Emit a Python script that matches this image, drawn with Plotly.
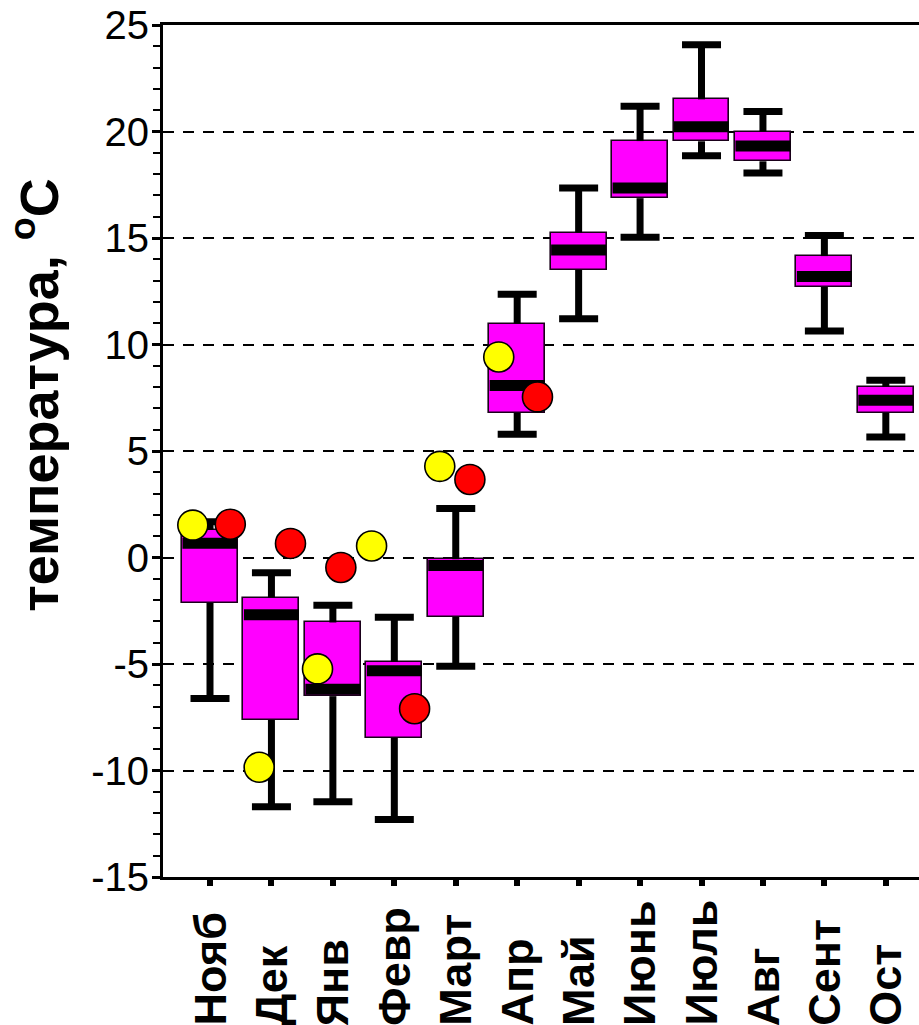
import plotly.graph_objects as go

# Monthly air temperature (°C): box statistics per month
months = ["Нояб", "Дек", "Янв", "Февр", "Март", "Апр",
          "Май", "Июнь", "Июль", "Авг", "Сент", "Ост"]
upper_whisker = [1.68, -0.72, -2.24, -2.80, 2.30, 12.36, 17.35, 21.18, 24.07, 20.94, 15.12, 8.32]
q3 = [1.29, -1.88, -3.05, -4.90, -0.08, 10.98, 15.25, 19.55, 21.51, 20.00, 14.15, 8.01]
median = [0.67, -2.69, -6.19, -5.32, -0.37, 8.07, 14.44, 17.35, 20.22, 19.32, 13.19, 7.38]
q1 = [-2.13, -7.63, -6.51, -8.46, -2.79, 6.79, 13.51, 16.87, 19.54, 18.60, 12.70, 6.79]
lower_whisker = [-6.62, -11.70, -11.47, -12.30, -5.10, 5.79, 11.21, 15.03, 18.86, 18.05, 10.63, 5.66]

# Individual-year values for the cold season (Nov - Apr)
yellow_values = [1.52, -9.85, -5.23, 0.54, 4.28, 9.41]
red_values = [1.56, 0.66, -0.47, -7.10, 3.66, 7.54]
# horizontal shift of each point from its month centre (category units)
yellow_shift = [-0.28, -0.20, -0.25, -0.37, -0.26, -0.30]
red_shift = [0.33, 0.31, 0.13, 0.33, 0.23, 0.33]

y_ticks = [25, 20, 15, 10, 5, 0, -5, -10, -15]

FONT = "Liberation Sans, Arial, sans-serif"
MAGENTA = "#FF00FF"

W, H = 919, 1025
M_L, M_R, M_T, M_B = 163, 0, 24.5, 148

# plotly's line-ew symbol draws a segment 1.4 x marker size long
LINE_EW = 1.4

idx = list(range(len(months)))

fig = go.Figure()

# boxes (Q1..Q3)
fig.add_trace(go.Bar(
    x=idx,
    y=[a - b for a, b in zip(q3, q1)],
    base=q1,
    width=0.91,
    marker=dict(color=MAGENTA, line=dict(color="#1a001a", width=1.6)),
    showlegend=False,
    hoverinfo="skip",
))

# whisker stems: Q3 -> upper, lower -> Q1
wx, wy = [], []
for i in idx:
    wx += [i, i, None, i, i, None]
    wy += [q3[i], upper_whisker[i], None, lower_whisker[i], q1[i], None]
fig.add_trace(go.Scatter(
    x=wx, y=wy, mode="lines",
    line=dict(color="black", width=7),
    showlegend=False, hoverinfo="skip",
))

# whisker caps (about 39 px long)
fig.add_trace(go.Scatter(
    x=idx + idx,
    y=upper_whisker + lower_whisker,
    mode="markers",
    marker=dict(symbol="line-ew", size=39 / LINE_EW, color="black",
                line=dict(color="black", width=7)),
    showlegend=False, hoverinfo="skip",
))

# medians (span the box interior)
fig.add_trace(go.Scatter(
    x=idx, y=median, mode="markers",
    marker=dict(symbol="line-ew", size=55 / LINE_EW, color="black",
                line=dict(color="black", width=11)),
    showlegend=False, hoverinfo="skip",
))

# individual points
fig.add_trace(go.Scatter(
    x=[i + s for i, s in zip(idx, yellow_shift)],
    y=yellow_values, mode="markers",
    marker=dict(size=30, color="#FFFF00", line=dict(color="black", width=1.6)),
    showlegend=False, hoverinfo="skip",
))
fig.add_trace(go.Scatter(
    x=[i + s for i, s in zip(idx, red_shift)],
    y=red_values, mode="markers",
    marker=dict(size=30, color="#FF0000", line=dict(color="black", width=1.6)),
    showlegend=False, hoverinfo="skip",
))

plot_h = H - M_T - M_B

# month labels, rotated and aligned at their start
label_bottom = 1028
for i, m in enumerate(months):
    fig.add_annotation(
        x=i, xref="x",
        y=-(label_bottom - (H - M_B)) / plot_h, yref="paper",
        text=m, textangle=-90, showarrow=False,
        xanchor="center", yanchor="bottom",
        font=dict(family=FONT, size=45, color="black", weight="bold"),
    )

# y-axis title
fig.add_annotation(
    x=-(M_L - 35) / (W - M_L - M_R), xref="paper",
    y=0.566, yref="paper",
    text="температура, <sup>o</sup>C", textangle=-90, showarrow=False,
    xanchor="center", yanchor="middle",
    font=dict(family=FONT, size=54, color="black", weight="bold"),
)

fig.update_layout(
    width=W, height=H,
    margin=dict(l=M_L, r=M_R, t=M_T, b=M_B, pad=0),
    paper_bgcolor="white", plot_bgcolor="white",
    font=dict(family=FONT, color="black"),
    bargap=0,
)

fig.update_xaxes(
    range=[-0.765, 11.54],
    tickvals=idx, showticklabels=False,
    ticks="outside", ticklen=6, tickwidth=6, tickcolor="black",
    showline=True, linecolor="black", linewidth=3, mirror=True,
    showgrid=False, zeroline=False,
)

fig.update_yaxes(
    range=[-15, 25],
    tickvals=y_ticks, ticktext=[str(v) for v in y_ticks],
    ticks="outside", ticklen=8, tickwidth=3, tickcolor="black",
    tickfont=dict(family=FONT, size=40, color="black"),
    ticklabelstandoff=-5,
    showline=True, linecolor="black", linewidth=3,
    showgrid=True, gridcolor="black", gridwidth=2, griddash="11px,9px",
    zeroline=False,
    minor=dict(dtick=1, ticks="outside", ticklen=7, tickwidth=2,
               tickcolor="black", showgrid=False),
)

fig.write_html("out.html")
